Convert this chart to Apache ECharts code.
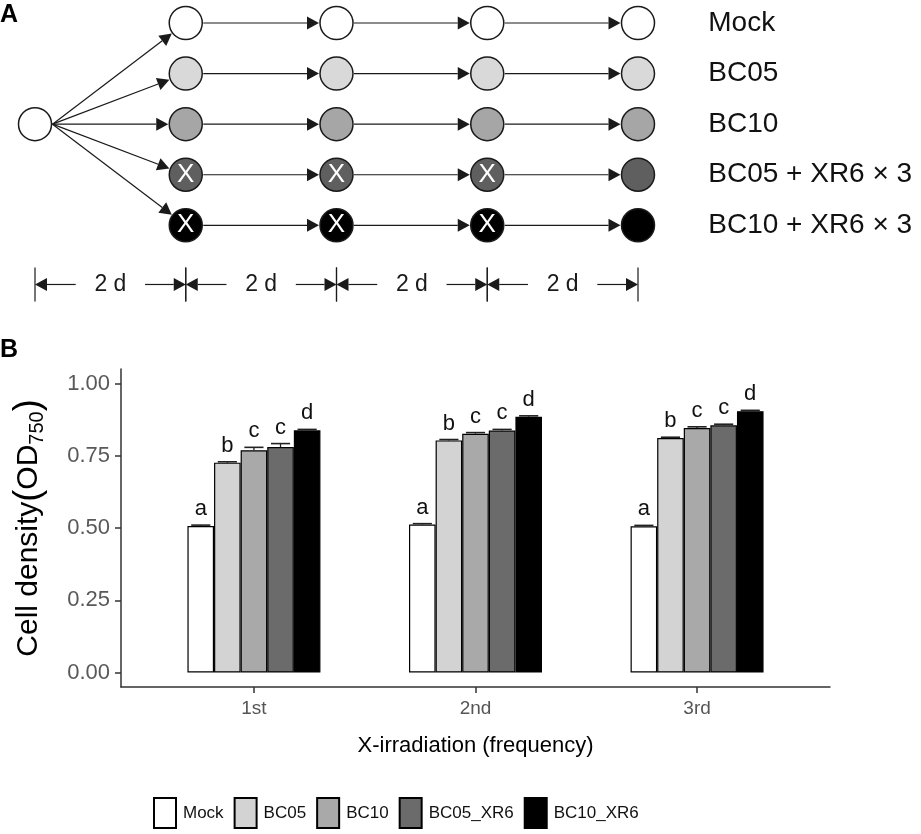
<!DOCTYPE html>
<html>
<head>
<meta charset="utf-8">
<script src="https://cdn.jsdelivr.net/npm/echarts@6/dist/echarts.min.js"></script>
<style>
  html, body { margin: 0; padding: 0; background: #fff; }
  #chart { width: 921px; height: 834px; }
</style>
</head>
<body>
<div id="chart"></div>
<script>
// ---- panel A: culture scheme ----
const treatments = ['Mock', 'BC05', 'BC10', 'BC05 + XR6 × 3', 'BC10 + XR6 × 3'];
const circleColors = ['#ffffff', '#d9d9d9', '#a6a6a6', '#5f5f5f', '#000000'];
const transferSteps = [1, 2, 3, 4];
const xrSteps = [1, 2, 3];
const xrRows = [3, 4];
const dayLabels = ['2 d', '2 d', '2 d', '2 d'];

// ---- panel B: cell density ----
const stages = ['1st', '2nd', '3rd'];
const groups = ['Mock', 'BC05', 'BC10', 'BC05_XR6', 'BC10_XR6'];
const barColors = ['#ffffff', '#d3d3d3', '#a9a9a9', '#6b6b6b', '#000000'];
const mockOD = [0.507, 0.512, 0.506];
const bc05OD = [0.726, 0.803, 0.811];
const bc10OD = [0.769, 0.826, 0.846];
const bc05xrOD = [0.780, 0.837, 0.855];
const bc10xrOD = [0.838, 0.885, 0.904];
const mockSE = [0.003, 0.003, 0.003];
const bc05SE = [0.003, 0.003, 0.003];
const bc10SE = [0.010, 0.004, 0.004];
const bc05xrSE = [0.012, 0.004, 0.004];
const bc10xrSE = [0.003, 0.003, 0.003];
const sigLetters = ['a', 'b', 'c', 'c', 'd'];
const yTicks = [0, 0.25, 0.5, 0.75, 1];

const FONT = '"Liberation Sans", Arial, sans-serif';
const INK = '#1a1a1a';

const meanRows = [mockOD, bc05OD, bc10OD, bc05xrOD, bc10xrOD];
const seRows = [mockSE, bc05SE, bc10SE, bc05xrSE, bc10xrSE];

// circles
const circleData = [{ value: [0, 2], itemStyle: { color: '#ffffff' } }];
transferSteps.forEach(function (c) {
  treatments.forEach(function (name, r) {
    const item = { value: [c, r], itemStyle: { color: circleColors[r] } };
    if (xrSteps.indexOf(c) >= 0 && xrRows.indexOf(r) >= 0) {
      item.label = { show: true, position: 'inside', formatter: 'X', color: '#fff', fontSize: 26, fontFamily: FONT };
    } else if (c === transferSteps[transferSteps.length - 1]) {
      item.label = { show: true, position: 'right', distance: 53, formatter: name, color: '#111', fontSize: 28, fontFamily: FONT };
    }
    circleData.push(item);
  });
});

// arrows between circles
const links = [];
treatments.forEach(function (name, r) { links.push([0, 2, 1, r]); });
transferSteps.slice(0, -1).forEach(function (c) {
  treatments.forEach(function (name, r) { links.push([c, r, c + 1, r]); });
});

const RADIUS = 17.5;
function arrow(sx, sy, tx, ty) {
  const dx = tx - sx, dy = ty - sy, len = Math.hypot(dx, dy);
  const ux = dx / len, uy = dy / len, hl = 12, hw = 6.5;
  const bx = tx - ux * hl, by = ty - uy * hl;
  return [
    { type: 'line', shape: { x1: sx, y1: sy, x2: bx, y2: by }, style: { stroke: INK, lineWidth: 1.2 } },
    { type: 'polygon', shape: { points: [[tx, ty], [bx - uy * hw, by + ux * hw], [bx + uy * hw, by - ux * hw]] }, style: { fill: INK } }
  ];
}

function renderLink(params, api) {
  const p0 = api.coord([api.value(0), api.value(1)]);
  const p1 = api.coord([api.value(2), api.value(3)]);
  const sx = p0[0] + RADIUS, sy = p0[1];
  const dx = p1[0] - sx, dy = p1[1] - sy, len = Math.hypot(dx, dy);
  const tx = p1[0] - dx / len * RADIUS, ty = p1[1] - dy / len * RADIUS;
  return { type: 'group', children: arrow(sx, sy, tx, ty) };
}

const TIMELINE_ROW = 5.17;
function renderDays(params, api) {
  const i = api.value(0);
  const a = api.coord([i, TIMELINE_ROW]);
  const b = api.coord([i + 1, TIMELINE_ROW]);
  const y = a[1], L = (b[0] - a[0]) * 0.27;
  const kids = [
    { type: 'line', shape: { x1: a[0], y1: y - 17, x2: a[0], y2: y + 17 }, style: { stroke: INK, lineWidth: 1.2 } },
    { type: 'line', shape: { x1: b[0], y1: y - 17, x2: b[0], y2: y + 17 }, style: { stroke: INK, lineWidth: 1.2 } },
    { type: 'text', x: (a[0] + b[0]) / 2, y: y, style: { text: dayLabels[i], fill: INK, font: '23px ' + FONT, textAlign: 'center', textVerticalAlign: 'middle' } }
  ];
  return { type: 'group', children: kids.concat(arrow(a[0] + L, y, a[0], y), arrow(b[0] - L, y, b[0], y)) };
}

// bar + error data
const barSeries = groups.map(function (g, gi) {
  return {
    type: 'bar', name: g, xAxisIndex: 1, yAxisIndex: 1,
    data: stages.map(function (s, si) { return [si + 1, meanRows[gi][si]]; }),
    barWidth: 26.6, barGap: '0%',
    itemStyle: { color: barColors[gi], borderColor: '#000', borderWidth: 1.2 },
    silent: true
  };
});

const errData = [];
groups.forEach(function (g, gi) {
  stages.forEach(function (s, si) {
    errData.push([si + 1, meanRows[gi][si], seRows[gi][si], gi]);
  });
});

function renderErr(params, api) {
  const gi = api.value(3);
  const bw = api.size([0.12, 0])[0];
  const top = api.coord([api.value(0), api.value(1) + api.value(2)]);
  const mid = api.coord([api.value(0), api.value(1)]);
  const cx = top[0] + (gi - 2) * bw, hw = bw * 0.36;
  return {
    type: 'group', children: [
      { type: 'line', shape: { x1: cx, y1: mid[1], x2: cx, y2: top[1] }, style: { stroke: '#222', lineWidth: 1.3 } },
      { type: 'line', shape: { x1: cx - hw, y1: top[1], x2: cx + hw, y2: top[1] }, style: { stroke: '#222', lineWidth: 1.6 } },
      { type: 'text', x: cx, y: top[1] - 5, style: { text: sigLetters[gi], fill: '#111', font: '22px ' + FONT, textAlign: 'center', textVerticalAlign: 'bottom' } }
    ]
  };
}

const chart = echarts.init(document.getElementById('chart'), null, { renderer: 'canvas' });
chart.setOption({
  animation: false,
  backgroundColor: '#fff',
  title: [
    { text: 'A', left: 0, top: 3, padding: 0, textStyle: { fontSize: 25, fontWeight: 'bold', fontFamily: FONT, color: '#000' } },
    { text: 'B', left: 0, top: 338, padding: 0, textStyle: { fontSize: 25, fontWeight: 'bold', fontFamily: FONT, color: '#000' } }
  ],
  legend: {
    data: groups, left: 148, top: 792, icon: 'rect', itemWidth: 22, itemHeight: 30, itemGap: 10,
    textStyle: { fontSize: 17, fontFamily: FONT, color: '#111', padding: [0, 0, 0, 2] },
    selectedMode: false
  },
  grid: [
    { left: 35, top: 23, width: 603, height: 263 },
    { left: 121, top: 369, width: 709, height: 318 }
  ],
  xAxis: [
    { gridIndex: 0, type: 'value', min: 0, max: 4, show: false },
    {
      gridIndex: 1, type: 'value', min: 0.4, max: 3.6,
      axisLine: { show: true, onZero: false, lineStyle: { color: '#333', width: 1.5 } },
      axisTick: { show: true, customValues: [1, 2, 3], length: 6, lineStyle: { color: '#333', width: 1.5 } },
      axisLabel: { customValues: [1, 2, 3], formatter: function (v) { return stages[Math.round(v) - 1]; }, margin: 12, fontSize: 19, fontFamily: FONT, color: '#555' },
      splitLine: { show: false },
      name: 'X-irradiation (frequency)', nameLocation: 'middle', nameGap: 48,
      nameTextStyle: { fontSize: 22, fontFamily: FONT, color: '#000' }
    }
  ],
  yAxis: [
    { gridIndex: 0, type: 'value', min: 0, max: 5.2, inverse: true, show: false },
    {
      gridIndex: 1, type: 'value', min: -0.05, max: 1.05,
      axisLine: { show: true, onZero: false, lineStyle: { color: '#333', width: 1.5 } },
      axisTick: { show: true, customValues: yTicks, length: 6, lineStyle: { color: '#333', width: 1.5 } },
      axisLabel: { customValues: yTicks, formatter: function (v) { return v.toFixed(2); }, margin: 11, fontSize: 22, fontFamily: FONT, color: '#595959' },
      splitLine: { show: false },
      name: '{t|Cell density}{p|(}{t|OD}{s|750}{p|)}', nameLocation: 'middle', nameRotate: 90, nameGap: 74,
      nameTextStyle: {
        fontFamily: FONT, color: '#000',
        rich: {
          t: { fontSize: 30, fontFamily: FONT, color: '#000', lineHeight: 36 },
          p: { fontSize: 36, fontFamily: FONT, color: '#000', lineHeight: 36 },
          s: { fontSize: 20, fontFamily: FONT, color: '#000', verticalAlign: 'bottom', lineHeight: 20 }
        }
      }
    }
  ],
  series: [
    { type: 'custom', xAxisIndex: 0, yAxisIndex: 0, data: links, renderItem: renderLink, silent: true, z: 1 },
    { type: 'custom', xAxisIndex: 0, yAxisIndex: 0, data: dayLabels.map(function (d, i) { return [i]; }), renderItem: renderDays, silent: true },
    {
      type: 'scatter', xAxisIndex: 0, yAxisIndex: 0, data: circleData, symbol: 'circle', symbolSize: 33,
      itemStyle: { borderColor: INK, borderWidth: 1.5, opacity: 1 }, silent: true, z: 3
    }
  ].concat(barSeries, [
    { type: 'custom', xAxisIndex: 1, yAxisIndex: 1, data: errData, renderItem: renderErr, silent: true, z: 5 }
  ])
});
</script>
</body>
</html>
